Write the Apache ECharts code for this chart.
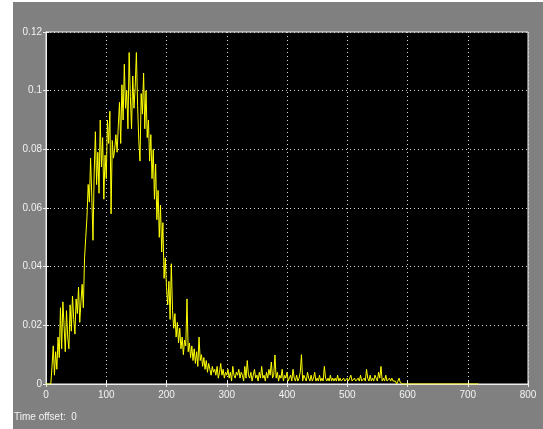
<!DOCTYPE html>
<html>
<head>
<meta charset="utf-8">
<script src="https://cdn.jsdelivr.net/npm/echarts@6/dist/echarts.min.js"></script>
<style>
  html, body { margin: 0; padding: 0; background: #ffffff; }
  #wrap { position: relative; width: 543px; height: 429px; background: #ffffff; overflow: hidden; }
  #scope { position: absolute; left: 13px; top: 2px; width: 530px; height: 427px; }
</style>
</head>
<body>
<div id="wrap"><div id="scope"></div></div>
<script>
// scope trace, sampled every 2 time units from 0 to 598
const sampleStep = 2;
const traceValues = [
  0, 0, 0, 0, 0, 0.006, 0.013, 0.003, 0.011, 0.005,
  0.016, 0.009, 0.026, 0.012, 0.028, 0.02, 0.011, 0.025, 0.016, 0.012,
  0.027, 0.018, 0.03, 0.022, 0.017, 0.029, 0.024, 0.033, 0.021, 0.028,
  0.034, 0.026, 0.043, 0.05, 0.057, 0.068, 0.062, 0.077, 0.064, 0.049,
  0.072, 0.086, 0.068, 0.079, 0.065, 0.09, 0.074, 0.084, 0.063, 0.078,
  0.07, 0.09, 0.082, 0.093, 0.058, 0.083, 0.077, 0.08, 0.085, 0.079,
  0.088, 0.096, 0.082, 0.102, 0.09, 0.109, 0.094, 0.1, 0.087, 0.113,
  0.098, 0.087, 0.105, 0.094, 0.101, 0.113, 0.095, 0.083, 0.076, 0.099,
  0.092, 0.106, 0.087, 0.1, 0.084, 0.09, 0.076, 0.085, 0.07, 0.08,
  0.063, 0.075, 0.056, 0.066, 0.05, 0.061, 0.045, 0.055, 0.036, 0.043,
  0.033, 0.027, 0.035, 0.022, 0.041, 0.025, 0.019, 0.024, 0.016, 0.021,
  0.014, 0.019, 0.012, 0.016, 0.01, 0.015, 0.013, 0.029, 0.011, 0.014,
  0.009, 0.013, 0.008, 0.012, 0.007, 0.011, 0.006, 0.016, 0.008, 0.01,
  0.006, 0.009, 0.005, 0.008, 0.004, 0.007, 0.005, 0.003, 0.006, 0.004,
  0.005, 0.003, 0.006, 0.002, 0.004, 0.007, 0.003, 0.005, 0.002, 0.004,
  0.003, 0.005, 0.002, 0.004, 0.001, 0.006, 0.003, 0.002, 0.004, 0.003,
  0.005, 0.002, 0.004, 0.003, 0.001, 0.006, 0.002, 0.008, 0.003, 0.002,
  0.004, 0.001, 0.003, 0.005, 0.002, 0.003, 0.001, 0.004, 0.002, 0.006,
  0.002, 0.003, 0.001, 0.004, 0.002, 0.005, 0.003, 0.0075, 0.002, 0.003,
  0.0099, 0.002, 0.004, 0.001, 0.003, 0.002, 0.005, 0.001, 0.003, 0.002,
  0.004, 0.001, 0.002, 0.003, 0.001, 0.005, 0.002, 0.001, 0.003, 0.001,
  0.002, 0.004, 0.01, 0.001, 0.003, 0.002, 0.001, 0.004, 0.002, 0.001,
  0.003, 0.001, 0.002, 0.004, 0.001, 0.002, 0.001, 0.003, 0.001, 0.002,
  0.001, 0.006, 0.002, 0.001, 0.002, 0.001, 0.003, 0.001, 0.002, 0.001,
  0.002, 0.001, 0.003, 0.001, 0.002, 0.001, 0.001, 0.002, 0.001, 0.001,
  0.002, 0.001, 0.001, 0.003, 0.001, 0.001, 0.002, 0.001, 0.001, 0.002,
  0.001, 0.003, 0.001, 0.001, 0.002, 0.001, 0.005, 0.002, 0.001, 0.003,
  0.001, 0.002, 0.001, 0.003, 0.002, 0.001, 0.004, 0.002, 0.006, 0.001,
  0.002, 0.001, 0.003, 0.001, 0.001, 0.002, 0.001, 0.002, 0.001, 0.001,
  0.001, 0, 0.001, 0.002, 0.0005, 0, 0, 0, 0, 0
];
// trace stays flat at zero until the end of the simulation
const tailTime = 718;
const tailValue = 0;

const xTicks = [0, 100, 200, 300, 400, 500, 600, 700, 800];
const yTicks = [0, 0.02, 0.04, 0.06, 0.08, 0.1, 0.12];

const points = traceValues.map((v, i) => [i * sampleStep, v]);
points.push([tailTime, tailValue]);

const gridColor = "#d8d8d8";
const frameColor = "#eeeeee";
const labelColor = "#f2f2f2";
const fontFamily = "Liberation Sans, Arial, sans-serif";

const chart = echarts.init(document.getElementById("scope"), null, { renderer: "canvas" });

const baseX = {
  type: "value",
  min: xTicks[0],
  max: xTicks[xTicks.length - 1],
  interval: 100,
};
const baseY = {
  type: "value",
  min: yTicks[0],
  max: yTicks[yTicks.length - 1],
  interval: 0.02,
};

chart.setOption({
  backgroundColor: "#808080",
  animation: false,
  grid: {
    left: 33, top: 30, width: 482, height: 352,
    show: true, backgroundColor: "#000000",
    borderColor: frameColor, borderWidth: 1,
  },
  xAxis: [
    Object.assign({}, baseX, {
      position: "bottom",
      axisLine: { show: true, lineStyle: { color: frameColor, width: 1 } },
      axisTick: { show: true, inside: true, length: 3, lineStyle: { color: frameColor } },
      axisLabel: { color: labelColor, fontSize: 10, fontFamily: fontFamily, margin: 6 },
      splitLine: { show: true, lineStyle: { color: gridColor, width: 1, type: [1, 3] } },
    }),
    Object.assign({}, baseX, {
      position: "top",
      axisLine: { show: true, lineStyle: { color: frameColor, width: 1 } },
      axisTick: { show: true, inside: true, length: 3, lineStyle: { color: frameColor } },
      axisLabel: { show: false },
      splitLine: { show: false },
    }),
  ],
  yAxis: [
    Object.assign({}, baseY, {
      position: "left",
      axisLine: { show: true, lineStyle: { color: frameColor, width: 1 } },
      axisTick: { show: true, inside: true, length: 3, lineStyle: { color: frameColor } },
      axisLabel: { color: labelColor, fontSize: 10, fontFamily: fontFamily, margin: 4 },
      splitLine: { show: true, lineStyle: { color: gridColor, width: 1, type: [1, 3] } },
    }),
    Object.assign({}, baseY, {
      position: "right",
      axisLine: { show: true, lineStyle: { color: frameColor, width: 1 } },
      axisTick: { show: true, inside: true, length: 3, lineStyle: { color: frameColor } },
      axisLabel: { show: false },
      splitLine: { show: false },
    }),
  ],
  graphic: [
    {
      type: "text", left: 1, top: 410,
      style: { text: "Time offset:  0", fill: labelColor, fontSize: 10, fontFamily: fontFamily },
    },
  ],
  series: [
    {
      type: "line",
      data: points,
      xAxisIndex: 0,
      yAxisIndex: 0,
      showSymbol: false,
      symbol: "none",
      sampling: null,
      lineStyle: { color: "#ffff00", width: 1 },
      z: 3,
    },
  ],
});
</script>
</body>
</html>
